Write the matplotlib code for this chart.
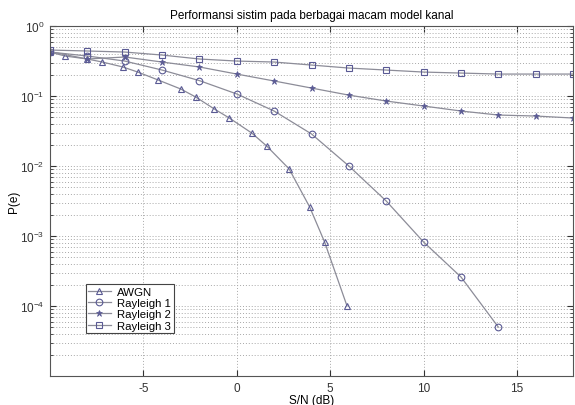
import numpy as np
import matplotlib
matplotlib.use('Agg')
import matplotlib.pyplot as plt
from matplotlib.ticker import LogLocator, NullFormatter, FixedLocator

plt.rcParams['font.family'] = ['Liberation Sans', 'DejaVu Sans']
plt.rcParams['axes.unicode_minus'] = False

# data (S/N in dB, P(e))
snr_awgn = [-10, -9.2, -8.0, -7.2, -6.1, -5.3, -4.2, -3.0, -2.2, -1.2, -0.4,
            0.8, 1.6, 2.8, 3.9, 4.7, 5.9]
pe_awgn = [0.425, 0.373, 0.338, 0.306, 0.260, 0.220, 0.169, 0.126, 0.0968,
           0.0652, 0.0485, 0.0296, 0.0193, 0.0091, 0.0026, 0.00082, 0.0001]

snr_r1 = [-10, -8, -6, -4, -2, 0, 2, 4, 6, 8, 10, 12, 14]
pe_r1 = [0.425, 0.373, 0.316, 0.235, 0.166, 0.107, 0.061, 0.0287, 0.0100,
         0.00316, 0.00082, 0.00026, 5.0e-5]

snr_r23 = [-10, -8, -6, -4, -2, 0, 2, 4, 6, 8, 10, 12, 14, 16, 18]
pe_r2 = [0.43, 0.338, 0.361, 0.306, 0.260, 0.206, 0.164, 0.130, 0.103,
         0.0848, 0.0720, 0.0611, 0.0535, 0.0518, 0.0485]
pe_r3 = [0.454, 0.44, 0.425, 0.385, 0.338, 0.316, 0.306, 0.277, 0.251,
         0.235, 0.220, 0.213, 0.206, 0.206, 0.206]

line_col = '#8c8c98'
mark_col = '#5a5a94'

fig = plt.figure(figsize=(5.75, 4.06), dpi=100)
ax = fig.add_axes([0.087, 0.0714, 0.9096, 0.862])

ax.semilogy(snr_awgn, pe_awgn, color=line_col, lw=0.9, marker='^', ms=5,
            mfc='none', mec=mark_col, mew=0.8, label='AWGN')
ax.semilogy(snr_r1, pe_r1, color=line_col, lw=0.9, marker='o', ms=4.8,
            mfc='none', mec=mark_col, mew=0.8, label='Rayleigh 1')
ax.semilogy(snr_r23, pe_r2, color=line_col, lw=0.9, marker='*', ms=5,
            mfc=mark_col, mec=mark_col, mew=0.5, label='Rayleigh 2')
ax.semilogy(snr_r23, pe_r3, color=line_col, lw=0.9, marker='s', ms=4.5,
            mfc='none', mec=mark_col, mew=0.8, label='Rayleigh 3')

ax.set_xlim(-10, 18)
ax.set_ylim(1e-5, 1)
ax.xaxis.set_major_locator(FixedLocator([-5, 0, 5, 10, 15]))
ax.yaxis.set_major_locator(FixedLocator([1e-4, 1e-3, 1e-2, 1e-1, 1]))
ax.yaxis.set_minor_locator(LogLocator(base=10, subs=np.arange(2, 10), numticks=20))
ax.yaxis.set_minor_formatter(NullFormatter())

ax.grid(True, which='major', linestyle=(0, (1, 2)), color='#a8a8a8', lw=0.7)
ax.grid(True, which='minor', axis='y', linestyle=(0, (1, 2)), color='#a8a8a8', lw=0.7)

ax.tick_params(which='both', direction='in', top=True, right=True,
               labelsize=8.5, colors='#333333', pad=4)
ax.tick_params(which='major', length=4)
ax.tick_params(which='minor', length=2)
for s in ax.spines.values():
    s.set_color('#555555')
    s.set_linewidth(0.8)

ax.set_title('Performansi sistim pada berbagai macam model kanal', fontsize=8.5, pad=6)
ax.set_xlabel('S/N (dB)', fontsize=8.5, labelpad=0)
ax.set_ylabel('P(e)', fontsize=8.5)
ax.yaxis.set_label_coords(-0.058, 0.5)

leg = ax.legend(loc='lower left', bbox_to_anchor=(0.068, 0.123), fontsize=8.2,
                fancybox=False, framealpha=1, edgecolor='#444444',
                handlelength=2.0, borderpad=0.2, labelspacing=0.12,
                handletextpad=0.6, borderaxespad=0)
leg.get_frame().set_linewidth(0.8)

fig.savefig('out.png', dpi=100)
